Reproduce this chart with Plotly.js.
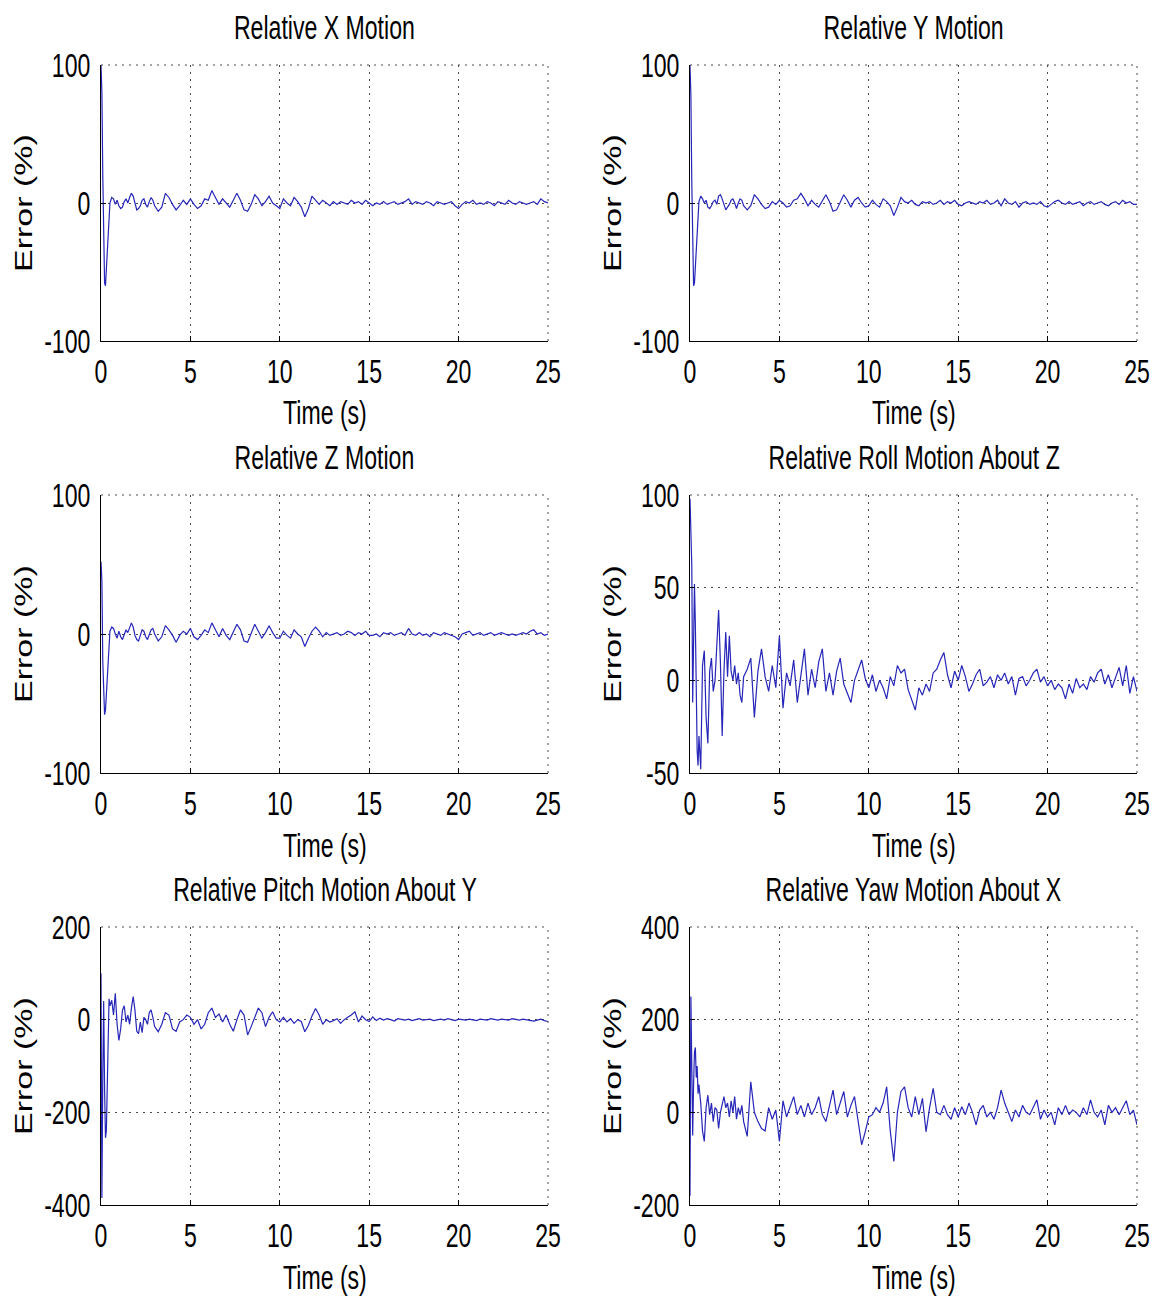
<!DOCTYPE html>
<html>
<head>
<meta charset="utf-8">
<script src="https://cdn.plot.ly/plotly-3.0.1.min.js"></script>
<style>
html,body{margin:0;padding:0;background:#fff;}
#chart{width:1161px;height:1298px;}
</style>
</head>
<body>
<div id="chart"></div>
<script>
// ---------- DATA ----------
var time = [
  0,0.05,0.1,0.15,0.2,0.25,0.3,0.35,0.4,0.45,0.5,
  0.6,0.7,0.8,0.9,1.0, 1.1,1.2,1.3,1.4,1.5, 1.6,1.7,1.8,1.9,2.0, 2.1,2.2,2.3,2.4,2.5, 2.6,2.7,2.8,2.9,3.0,
  3.2,3.4,3.6,3.8,4.0, 4.2,4.4,4.6,4.8,5.0, 5.2,5.4,5.6,5.8,6.0, 6.2,6.4,6.6,6.8,7.0,
  7.2,7.4,7.6,7.8,8.0, 8.2,8.4,8.6,8.8,9.0, 9.2,9.4,9.6,9.8,10.0, 10.2,10.4,10.6,10.8,11.0,
  11.2,11.4,11.6,11.8,12.0, 12.2,12.4,12.6,12.8,13.0, 13.2,13.4,13.6,13.8,14.0, 14.2,14.4,14.6,14.8,15.0,
  15.2,15.4,15.6,15.8,16.0, 16.2,16.4,16.6,16.8,17.0, 17.2,17.4,17.6,17.8,18.0, 18.2,18.4,18.6,18.8,19.0,
  19.2,19.4,19.6,19.8,20.0, 20.2,20.4,20.6,20.8,21.0, 21.2,21.4,21.6,21.8,22.0, 22.2,22.4,22.6,22.8,23.0,
  23.2,23.4,23.6,23.8,24.0, 24.2,24.4,24.6,24.8,25.0
];

var errX = [
  100,80,20,-40,-58,-60,-48,-35,-24,-10,0,
  4,3,-1,2,-2, -4,-3,1,3,0, 4,7,5,-1,-5, -4,-2,2,3,-1, -3,1,4,2,-2,
  -6,-3,7,4,-1, -5,-2,2,-1,3, -1,-4,-2,3,2, 9,4,-1,3,0,
  -3,2,7,2,-5, -6,-1,6,3,-2, 1,5,0,-2,-4, 3,0,-2,4,1,
  -3,-10,-4,5,2, -1,2,0,-2,1, -1,1,0,-1,2, 0,1,-1,2,0,
  -2,0,-1,1,-1, 0,1,-1,0,1, 3,-1,1,0,-1, 1,0,-2,1,0,
  -1,0,1,-2,-4, -1,1,0,2,-1, 0,-1,1,0,-2, 1,0,-1,2,0,
  -1,1,0,-1,0, 1,-1,3,1,0
];

var errY = [
  100,78,15,-45,-60,-58,-45,-33,-22,-8,1,
  5,3,0,2,-3, -4,-2,1,2,-1, 5,6,3,-2,-5, -3,-1,2,3,0, -4,0,3,2,-2,
  -5,-2,6,3,-1, -4,-3,1,-1,2, 0,-3,-2,2,3, 7,3,-2,2,-1,
  -3,1,6,1,-6, -5,0,6,2,-3, 2,4,0,-3,-2, 2,-1,-3,3,1,
  -2,-9,-3,4,1, 0,2,-1,-2,1, 0,1,-1,0,2, -1,1,0,2,-1,
  -2,0,1,0,-1, 1,0,2,-1,0, 2,-2,3,0,-1, 1,-3,0,1,-1,
  0,-1,1,-2,-3, -1,1,2,0,-1, 1,-1,0,1,-2, 0,1,-1,0,1,
  -1,-2,0,1,-1, 2,0,1,-1,-1
];

var errZ = [
  52,38,-20,-50,-58,-55,-42,-30,-20,-8,2,
  5,4,0,-3,2, -2,-4,0,3,1, 4,8,5,-1,-4, -5,-1,3,2,-2, -4,0,3,4,0,
  -5,-2,6,3,-1, -6,-1,2,0,4, -2,-4,-1,3,1, 8,3,-2,4,-1,
  -4,2,7,3,-5, -6,0,7,2,-3, 1,6,1,-3,-3, 2,-1,-3,3,0,
  -2,-9,-3,2,5, 2,-2,1,-1,0, 1,-1,0,2,1, -1,1,0,2,-1,
  -1,0,-2,1,0, 1,-1,0,1,-1, 4,0,-1,1,-1, 0,-2,1,0,-1,
  1,0,-1,-2,-4, 0,1,2,-1,0, 1,-1,0,1,-1, 0,1,0,-1,0,
  -1,0,1,0,2, 3,0,1,-1,0
];

var errRoll = [
  98,85,62,-12,15,52,30,-20,-38,-46,-30,
  -48,8,16,-20,-34, 5,12,-6,0,20, 38,10,-30,5,26, 2,24,5,0,8, -2,4,-8,-12,2,
  6,12,-20,5,17, 2,-6,8,-4,24, -15,4,-3,11,-12, 3,17,-8,6,-4,
  10,17,-6,4,-8, 5,12,-2,-7,-12, 0,6,11,1,-4, 3,-6,0,-4,-10,
  2,-3,8,4,6, -5,-10,-16,-4,-8, -2,-6,4,6,11, 15,3,-4,5,0,
  8,2,-6,-2,3, 6,-3,-1,2,-4, 3,0,4,-2,2, -8,1,2,-3,0,
  4,6,-1,2,-3, 0,-5,-2,-4,-10, -2,-7,1,-4,-2, -5,2,-1,4,6,
  -2,3,-4,2,7, -3,8,-7,2,-6
];

var errPitch = [
  100,-385,-120,40,-150,-255,-240,-120,10,45,30,
  42,10,57,-10,-45, -20,20,30,-5,10, -10,25,50,20,-25, -30,-5,-28,5,0, -10,15,21,5,-15,
  -26,-10,15,10,-20, -25,-5,0,10,5, -10,0,-20,-10,15, 25,5,12,-5,10,
  -10,-25,0,21,10, -33,-15,5,25,15, -15,5,17,0,-5, 5,-5,2,-8,0,
  -4,-26,-12,8,24, 10,-10,0,-5,-2, 2,-8,0,5,10, 17,-5,8,0,-4,
  6,-2,3,-1,2, 0,-3,2,0,-1, 1,-2,0,2,-1, 0,1,-2,0,1,
  -1,2,0,-2,1, 0,-1,1,0,-2, 1,0,-1,2,0, -1,1,0,-1,2,
  0,-1,1,0,-2, -3,-1,1,-2,-4
];

var errYaw = [
  -180,250,100,-50,60,130,140,75,100,40,60,
  20,-40,-63,10,37, -5,20,-20,10,5, -35,0,20,34,10, 20,-10,25,0,34, -15,10,-5,15,-20,
  -52,66,0,-20,-35, -40,10,-15,5,-63, 25,-10,10,34,-5, 15,-10,20,-5,10,
  34,-5,-20,15,48, -5,20,45,-10,15, 34,-20,-70,-42,-10, -5,10,0,20,55,
  -40,-106,0,45,55, 10,-10,34,-5,30, -42,10,52,0,-5, 15,-5,-15,10,-10,
  12,-5,20,0,-27, 5,15,-10,0,-15, 10,48,20,0,-20, 5,-10,15,0,-5,
  10,27,-15,5,-10, 0,-27,10,-5,15, -5,5,0,-10,10, -5,27,0,-10,5,
  -27,15,0,10,-5, 10,25,-5,5,-27
];

var titles = ["Relative X Motion","Relative Y Motion","Relative Z Motion",
              "Relative Roll Motion About Z","Relative Pitch Motion About Y","Relative Yaw Motion About X"];
var series = [errX, errY, errZ, errRoll, errPitch, errYaw];
var yRanges = [[-100,100],[-100,100],[-100,100],[-50,100],[-400,200],[-200,400]];
var yTicks = [[-100,0,100],[-100,0,100],[-100,0,100],[-50,0,50,100],[-400,-200,0,200],[-200,0,200,400]];
var xTicks = [0,5,10,15,20,25];
var xLabel = "Time (s)";
var yLabel = "Error (%)";

// ---------- LAYOUT ----------
var W = 1161, H = 1298;
var FONT = "Liberation Sans, Arial, sans-serif";
var SQUISH = 0.7;   // the reference text is horizontally condensed
var colsPx = [[101,548],[690,1137]];
var rowsPx = [[65,341],[495,773],[927,1205]];
function px(x){return x/W;}
function py(y){return 1-y/H;}

var gridColor = "#4a4a4a", gridDash = "2px,5px";
var data = [], layout = {
  width:W, height:H, showlegend:false,
  paper_bgcolor:"#fff", plot_bgcolor:"#fff",
  margin:{l:0,r:0,t:0,b:0,pad:0},
  font:{family:FONT, size:33, color:"#000"},
  annotations:[], shapes:[]
};

for (var i=0;i<6;i++){
  var c = i%2, r = Math.floor(i/2);
  var sx = i===0?"":String(i+1);
  data.push({
    x: time, y: series[i], type:"scatter", mode:"lines",
    xaxis:"x"+sx, yaxis:"y"+sx,
    line:{color:"rgb(38,38,185)", width:1.2}
  });
  var common = {
    showline:true, linecolor:"#000", linewidth:1, mirror:false,
    ticks:"inside", ticklen:5, tickcolor:"#000",
    showgrid:true, zeroline:false, fixedrange:true,
    gridcolor:gridColor, gridwidth:1, griddash:gridDash,
    tickfont:{family:FONT, size:33, color:"#000"}
  };
  layout["xaxis"+sx] = Object.assign({
    domain:[px(colsPx[c][0]), px(colsPx[c][1])],
    anchor:"y"+sx, range:[0,25], tickvals:xTicks, ticktext:xTicks.map(String),
    ticklabelstandoff:1
  }, common);
  layout["yaxis"+sx] = Object.assign({
    domain:[py(rowsPx[r][1]), py(rowsPx[r][0])],
    anchor:"x"+sx, range:yRanges[i], tickvals:yTicks[i], ticktext:yTicks[i].map(String),
    ticklabelstandoff:3
  }, common);
  // dotted top and right frame edges (MATLAB grid at the limits)
  layout.shapes.push({type:"line", xref:"x"+sx+" domain", yref:"y"+sx+" domain",
    x0:0, x1:1, y0:1, y1:1, line:{color:gridColor, width:1, dash:gridDash}});
  layout.shapes.push({type:"line", xref:"x"+sx+" domain", yref:"y"+sx+" domain",
    x0:1, x1:1, y0:0, y1:1, line:{color:gridColor, width:1, dash:gridDash}});

  var cx = (colsPx[c][0]+colsPx[c][1])/2;
  var cy = (rowsPx[r][0]+rowsPx[r][1])/2;
  layout.annotations.push({
    text:titles[i], xref:"paper", yref:"paper", x:px(cx), y:py(rowsPx[r][0]-38),
    xanchor:"center", yanchor:"middle", showarrow:false,
    font:{family:FONT, size:33, color:"#000"}
  });
  layout.annotations.push({
    text:xLabel, xref:"paper", yref:"paper", x:px(cx), y:py(rowsPx[r][1]+72),
    xanchor:"center", yanchor:"middle", showarrow:false,
    font:{family:FONT, size:33, color:"#000"}
  });
  layout.annotations.push({
    text:yLabel, xref:"paper", yref:"paper", x:px(colsPx[c][0]-77), y:py(cy),
    xanchor:"center", yanchor:"middle", showarrow:false, textangle:-90,
    font:{family:FONT, size:34, color:"#000"}
  });
}

function squish(el, mode){
  var svg = el.ownerSVGElement || el.closest("svg");
  var rc = el.getBoundingClientRect();
  var ax = mode === "right" ? rc.right : (rc.left + rc.right)/2;
  var m = el.parentNode.getScreenCTM();
  var pt = svg.createSVGPoint(); pt.x = ax; pt.y = rc.top;
  var p = pt.matrixTransform(m.inverse());
  var old = el.getAttribute("transform") || "";
  el.setAttribute("transform",
    "translate(" + p.x + ",0) scale(" + SQUISH + ",1) translate(" + (-p.x) + ",0) " + old);
}

Plotly.newPlot("chart", data, layout, {displayModeBar:false, staticPlot:true}).then(function(gd){
  gd.querySelectorAll(".xaxislayer-above text").forEach(function(t){ squish(t, "center"); });
  gd.querySelectorAll(".yaxislayer-above text").forEach(function(t){ squish(t, "right"); });
  gd.querySelectorAll("g.annotation").forEach(function(a){ squish(a, "center"); });
});
</script>
</body>
</html>
